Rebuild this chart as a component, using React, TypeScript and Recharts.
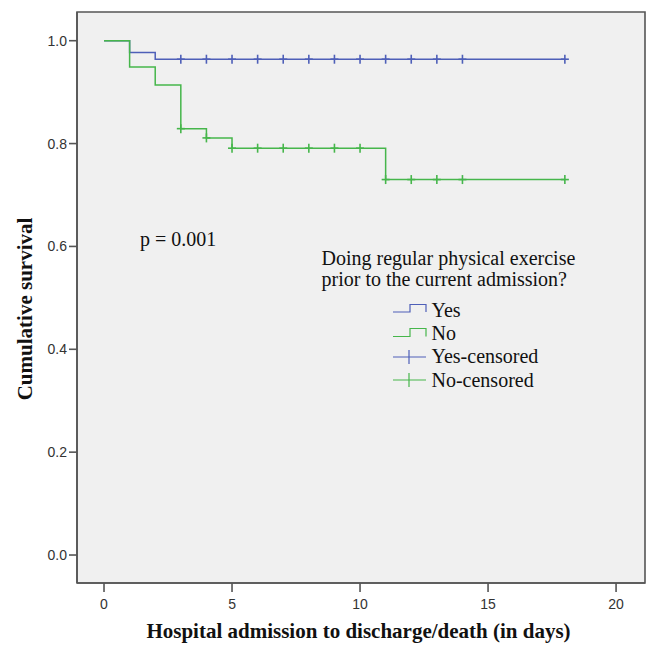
import { ComposedChart, Line, Scatter, XAxis, YAxis, CartesianGrid, ReferenceArea } from 'recharts';

// Kaplan-Meier steps: time (days) and cumulative survival
const yesTimes = [0, 1, 2, 18];
const yesSurv = [1.0, 0.977, 0.964, 0.964];
const noTimes = [0, 1, 2, 3, 4, 5, 11, 18];
const noSurv = [1.0, 0.949, 0.914, 0.829, 0.811, 0.791, 0.73, 0.73];

// censored observations (days)
const yesCensored = [3, 4, 5, 6, 7, 8, 9, 10, 11, 12, 13, 14, 18];
const noCensored = [3, 4, 5, 6, 7, 8, 9, 10, 11, 12, 13, 14, 18];

const xTicks = [0, 5, 10, 15, 20];
const yTicks = [0, 0.2, 0.4, 0.6, 0.8, 1.0];

const X_DOMAIN: [number, number] = [-1.055, 21.13];
const Y_DOMAIN: [number, number] = [-0.0544, 1.0558];

const BLUE = '#4e5fb8';
const GREEN = '#46b64b';
const AXIS = '#555';

const toSteps = (times: number[], surv: number[]) => times.map((t, i) => ({ t, s: surv[i] }));

// survival value at time t, read from the step arrays
const survAt = (times: number[], surv: number[], t: number) => {
  let v = surv[0];
  times.forEach((tt, i) => {
    if (tt <= t) v = surv[i];
  });
  return v;
};

const yesData = toSteps(yesTimes, yesSurv);
const noData = toSteps(noTimes, noSurv);
const yesCens = yesCensored.map((t) => ({ t, s: survAt(yesTimes, yesSurv, t) }));
const noCens = noCensored.map((t) => ({ t, s: survAt(noTimes, noSurv, t) }));

const censorMark = (color: string) => (props: any) => {
  const { cx, cy } = props;
  return (
    <g stroke={color} strokeWidth={1.6}>
      <line x1={cx} y1={cy - 4.5} x2={cx} y2={cy + 4.5} />
      <line x1={cx - 4} y1={cy} x2={cx + 4} y2={cy} />
    </g>
  );
};

const serif = '"Liberation Serif", "Times New Roman", serif';

function Overlay() {
  return (
    <svg width={646} height={646} style={{ position: 'absolute', left: 0, top: 0, pointerEvents: 'none' }}>
      <text x={31.5} y={309} transform="rotate(-90 31.5 309)" textAnchor="middle" fontFamily={serif} fontWeight="bold" fontSize={21} fill="#111">
        Cumulative survival
      </text>
      <text x={358.5} y={638} textAnchor="middle" fontFamily={serif} fontWeight="bold" fontSize={21} fill="#111">
        Hospital admission to discharge/death (in days)
      </text>
      <text x={140} y={246} fontFamily={serif} fontSize={20} fill="#111">p = 0.001</text>
      <g fontFamily={serif} fontSize={20} fill="#111">
        <text x={321.5} y={265}>Doing regular physical exercise</text>
        <text x={321.5} y={286}>prior to the current admission?</text>
        <text x={431.5} y={316.5}>Yes</text>
        <text x={431.5} y={339.5}>No</text>
        <text x={431.5} y={363}>Yes-censored</text>
        <text x={431.5} y={386.5}>No-censored</text>
      </g>
      <g fill="none" strokeWidth={1.2}>
        <path d="M393,312 H410 V304.5 H426 V312" stroke={BLUE} />
        <path d="M393,336.5 H410 V328.5 H426 V336.5" stroke={GREEN} />
        <path d="M393,357 H426 M409,350 V364" stroke={BLUE} />
        <path d="M393,380 H426 M409,373 V387" stroke={GREEN} />
      </g>
    </svg>
  );
}

export default function App() {
  return (
    <div style={{ position: 'absolute', left: 0, top: 0, width: 646, height: 646, background: '#fff' }}>
      <ComposedChart width={646} height={646} margin={{ top: 12, right: 1, bottom: 33, left: 0 }}>
        <CartesianGrid fill="#f0f0f0" horizontal={false} vertical={false} />
        <XAxis
          dataKey="t"
          type="number"
          domain={X_DOMAIN}
          allowDataOverflow
          ticks={xTicks}
          height={30}
          tickSize={9}
          tickMargin={7}
          stroke={AXIS}
          strokeWidth={1.6}
          tick={{ fill: '#333', fontSize: 14, fontFamily: '"Liberation Sans", Arial, sans-serif' }}
        />
        <YAxis
          type="number"
          domain={Y_DOMAIN}
          allowDataOverflow
          ticks={yTicks}
          width={77}
          tickSize={8}
          tickMargin={2}
          stroke={AXIS}
          strokeWidth={1.6}
          tickFormatter={(v: number) => v.toFixed(1)}
          tick={{ fill: '#333', fontSize: 14, fontFamily: '"Liberation Sans", Arial, sans-serif' }}
        />
        <ReferenceArea
          x1={X_DOMAIN[0]}
          x2={X_DOMAIN[1]}
          y1={Y_DOMAIN[0]}
          y2={Y_DOMAIN[1]}
          fill="none"
          stroke={AXIS}
          strokeWidth={1.6}
          ifOverflow="visible"
        />
        <Line data={yesData} dataKey="s" type="stepAfter" stroke={BLUE} strokeWidth={1.5} dot={false} activeDot={false} isAnimationActive={false} />
        <Line data={noData} dataKey="s" type="stepAfter" stroke={GREEN} strokeWidth={1.5} dot={false} activeDot={false} isAnimationActive={false} />
        <Scatter data={yesCens} dataKey="s" shape={censorMark(BLUE)} isAnimationActive={false} />
        <Scatter data={noCens} dataKey="s" shape={censorMark(GREEN)} isAnimationActive={false} />
      </ComposedChart>
      <Overlay />
    </div>
  );
}
